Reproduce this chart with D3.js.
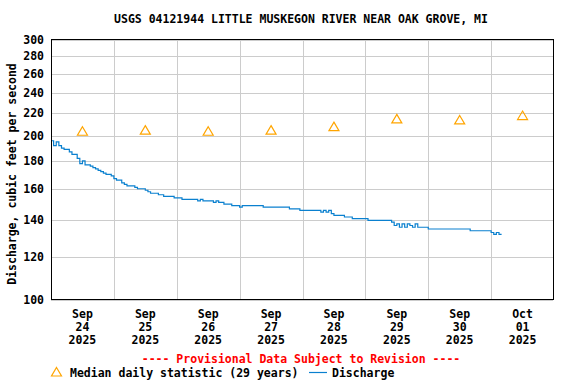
<!DOCTYPE html>
<html><head><meta charset="utf-8">
<script src="https://cdn.jsdelivr.net/npm/d3@7"></script>
<style>
body{margin:0;background:#fff}
svg{display:block}
text{font-family:"DejaVu Sans Mono","Liberation Mono",monospace;font-weight:bold;font-size:11.5px;fill:#000}
</style>
</head><body>
<svg id="chart" width="576" height="384"></svg>
<script>
const title = "USGS 04121944 LITTLE MUSKEGON RIVER NEAR OAK GROVE, MI";
const yAxisTitle = "Discharge, cubic feet per second";
const yTicks = [100, 120, 140, 160, 180, 200, 220, 240, 260, 280, 300];
const dayStarts = ["2025-09-24","2025-09-25","2025-09-26","2025-09-27","2025-09-28","2025-09-29","2025-09-30","2025-10-01","2025-10-02"];
const dayLabels = [["Sep","24","2025"],["Sep","25","2025"],["Sep","26","2025"],["Sep","27","2025"],["Sep","28","2025"],["Sep","29","2025"],["Sep","30","2025"],["Oct","01","2025"]];
const medianDates = ["2025-09-24T12:00:00Z","2025-09-25T12:00:00Z","2025-09-26T12:00:00Z","2025-09-27T12:00:00Z","2025-09-28T12:00:00Z","2025-09-29T12:00:00Z","2025-09-30T12:00:00Z","2025-10-01T12:00:00Z"];
const medianValues = [204, 205, 204, 205, 208, 215, 214, 218];
const dischargeStart = "2025-09-24T00:00:00Z";
// hourly discharge, cfs
const dischargeHourly = [
 196,192,195,192,190,189,189,187,185,185,182,178,180,177,177,176,175,174,173,172,171,170,170,169,
 167,166,166,164,163,162,162,162,161,160,160,160,159,158,157,157,157,156,156,155,155,155,155,154,
 154,154,153,153,153,153,153,153,152,153,152,152,152,152,151,152,151,151,150,150,150,149,149,149,
 148,149,149,149,149,149,149,149,149,148,148,148,148,148,148,148,148,148,148,147,147,147,147,146,
 146,146,146,146,146,146,146,145,146,145,146,144,143,143,143,143,142,142,142,141,141,141,141,141,
 141,140,140,140,140,140,140,140,140,140,139,137,138,136,138,136,138,137,136,138,136,136,136,136,
 135,135,135,135,135,135,135,135,135,135,135,135,135,135,135,135,134,134,134,134,134,134,134,134,
 133,132,133,132,132
];
const provisional = "---- Provisional Data Subject to Revision ----";
const legendMedian = "Median daily statistic (29 years)";
const legendDischarge = "Discharge";

const svg = d3.select("#chart");
const L = 51, R = 553, T = 40, B = 300;
const x = d3.scaleUtc().domain([new Date(dayStarts[0]+"T00:00:00Z"), new Date(dayStarts[8]+"T00:00:00Z")]).range([L, 554]);
const y = d3.scaleLog().domain([100, 300]).range([B, T]);

// grid
const g = svg.append("g");
g.selectAll("line.h").data(yTicks).join("line")
  .attr("x1", L).attr("x2", R)
  .attr("y1", d => Math.round(y(d)) + 0.5).attr("y2", d => Math.round(y(d)) + 0.5)
  .attr("stroke", "#cccccc").attr("stroke-width", 1);
g.selectAll("line.v").data(dayStarts.slice(1, 8)).join("line")
  .attr("x1", d => Math.round(x(new Date(d+"T00:00:00Z"))) + 0.5)
  .attr("x2", d => Math.round(x(new Date(d+"T00:00:00Z"))) + 0.5)
  .attr("y1", T).attr("y2", B)
  .attr("stroke", "#cccccc").attr("stroke-width", 1);

// y tick labels
svg.selectAll("text.yt").data(yTicks).join("text")
  .attr("x", 44).attr("y", d => y(d))
  .attr("text-anchor", "end").attr("dominant-baseline", "central")
  .text(d => d);

// x labels
const xl = svg.selectAll("text.xt").data(dayLabels).join("text")
  .attr("text-anchor", "middle")
  .attr("transform", (d, i) => `translate(${x(new Date(dayStarts[i]+"T12:00:00Z"))},0)`);
xl.selectAll("tspan").data(d => d).join("tspan")
  .attr("x", 0).attr("y", (d, j) => 318 + j * 13).text(d => d);

// discharge line
const t0 = new Date(dischargeStart).getTime();
const dis = dischargeHourly.map((v, i) => ({t: new Date(t0 + i * 3600000), v}));
svg.append("path").datum(dis)
  .attr("fill", "none").attr("stroke", "#0a80cf").attr("stroke-width", 1.2)
  .attr("d", d3.line().x(d => x(d.t)).y(d => y(d.v)).curve(d3.curveStepAfter));

// median triangles
const tri = (cx, cy) => `M${cx},${cy-4.5}L${cx+5},${cy+4}L${cx-5},${cy+4}Z`;
svg.selectAll("path.med").data(medianDates.map((d, i) => ({t: new Date(d), v: medianValues[i]}))).join("path")
  .attr("d", d => tri(x(d.t), y(d.v)))
  .attr("fill", "none").attr("stroke", "#ffa500").attr("stroke-width", 1.2);

// border
svg.append("rect").attr("x", L + 0.5).attr("y", T - 0.5).attr("width", R - L).attr("height", B - T)
  .attr("fill", "none").attr("stroke", "#000").attr("stroke-width", 1);

// title
svg.append("text").attr("x", 301).attr("y", 23).attr("text-anchor", "middle").text(title);

// y axis title
svg.append("text").attr("transform", "translate(12,174) rotate(-90)")
  .attr("text-anchor", "middle").attr("dominant-baseline", "central").text(yAxisTitle);

// provisional
svg.append("text").attr("x", 301).attr("y", 363).attr("text-anchor", "middle")
  .style("fill", "#ff0000").text(provisional);

// legend
svg.append("path").attr("d", tri(56.5, 372)).attr("fill", "none").attr("stroke", "#ffa500").attr("stroke-width", 1.2);
svg.append("text").attr("x", 70).attr("y", 377).text(legendMedian);
svg.append("line").attr("x1", 309).attr("x2", 327).attr("y1", 372.5).attr("y2", 372.5)
  .attr("stroke", "#0a80cf").attr("stroke-width", 1.2);
svg.append("text").attr("x", 332).attr("y", 377).text(legendDischarge);
</script>
</body></html>
